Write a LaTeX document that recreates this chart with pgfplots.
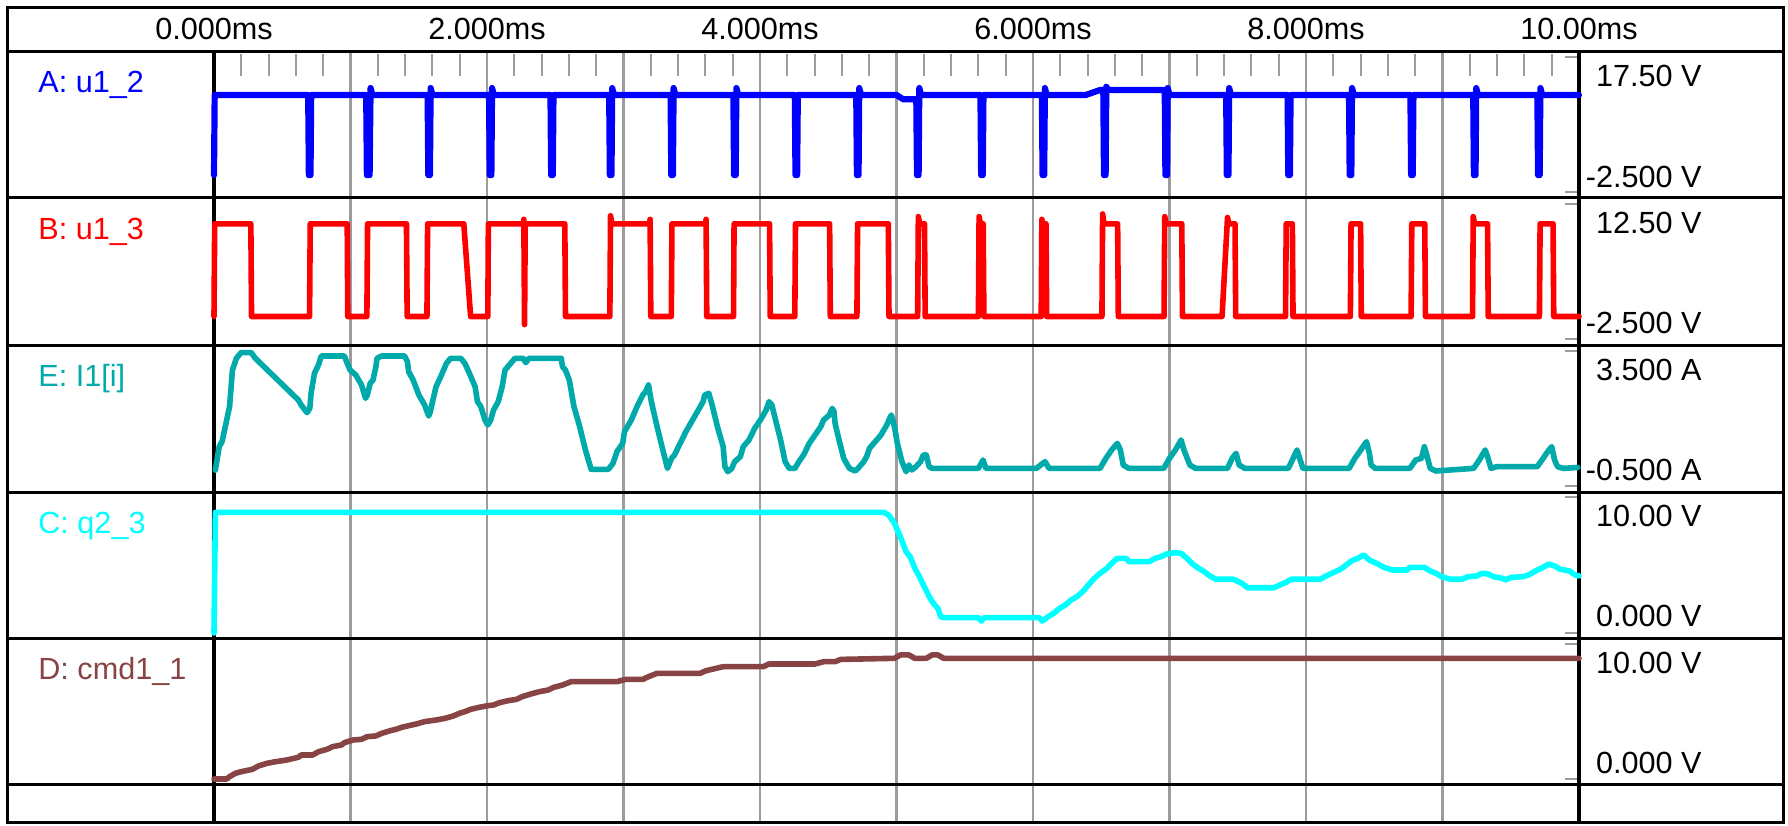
\documentclass[border=0pt]{standalone}
\usepackage{pgfplots}
\pgfplotsset{compat=1.18}
\usepackage{fontspec}
\setmainfont{Liberation Sans}
\definecolor{cA}{HTML}{0000FF}
\definecolor{cB}{HTML}{FF0000}
\definecolor{cE}{HTML}{00AAAA}
\definecolor{cC}{HTML}{00FFFF}
\definecolor{cD}{HTML}{884444}
\definecolor{gridgray}{HTML}{9C9C9C}
\pgfplotsset{panel/.style={scale only axis, width=682.5pt, height=67.5pt,
  xmin=0, xmax=10, hide axis, clip=false, anchor=north west},
  trace/.style={line width=2.8pt, line join=round, line cap=round}}
\begin{document}
\begin{tikzpicture}
\begin{scope}[x=0.5pt,y=-0.5pt]
\useasboundingbox (0,0) rectangle (1788,825);
% grid
\foreach \k in {1,...,9} \draw[gridgray, line width=1.3pt] ({214+136.5*\k},51) -- ({214+136.5*\k},822);
\foreach \m in {0,...,9} \foreach \j in {1,...,4} \draw[gridgray, line width=1pt] ({214+136.5*(\m+0.2*\j)},54) -- ({214+136.5*(\m+0.2*\j)},76);
\foreach \yy in {57,192,204,339,351,486,497,633,644,779} \draw[gridgray, line width=1.3pt] (1565,\yy) -- (1577,\yy);
% frame
\draw[black, line width=1.5pt] (7,7) rectangle (1783,822);
\foreach \yy in {51,197.5,345,492.5,638,784} \draw[black, line width=1.5pt] (7,\yy) -- (1783,\yy);
\draw[black, line width=1.6pt] (214,51) -- (214,822);
\draw[black, line width=1.6pt] (1579,51) -- (1579,822);
% texts
\begin{scope}[every node/.style={font=\fontsize{15.3}{18}\selectfont, inner sep=0pt}]
\node[anchor=base] at (214,39) {0.000ms};
\node[anchor=base] at (487,39) {2.000ms};
\node[anchor=base] at (760,39) {4.000ms};
\node[anchor=base] at (1033,39) {6.000ms};
\node[anchor=base] at (1306,39) {8.000ms};
\node[anchor=base] at (1579,39) {10.00ms};
\node[anchor=base west, text=cA] at (38,92) {A: u1\_2};
\node[anchor=base west, text=cB] at (38,239) {B: u1\_3};
\node[anchor=base west, text=cE] at (38,386) {E: I1[i]};
\node[anchor=base west, text=cC] at (38,533) {C: q2\_3};
\node[anchor=base west, text=cD] at (38,679) {D: cmd1\_1};
\node[anchor=base east] at (1702,86) {17.50 V};
\node[anchor=base east] at (1702,187) {-2.500 V};
\node[anchor=base east] at (1702,233) {12.50 V};
\node[anchor=base east] at (1702,333) {-2.500 V};
\node[anchor=base east] at (1702,380) {3.500 A};
\node[anchor=base east] at (1702,480) {-0.500 A};
\node[anchor=base east] at (1702,526) {10.00 V};
\node[anchor=base east] at (1702,626) {0.000 V};
\node[anchor=base east] at (1702,673) {10.00 V};
\node[anchor=base east] at (1702,773) {0.000 V};
\end{scope}
\end{scope}
% A: u1_2
\begin{axis}[panel, at={(107pt,-28.5pt)}, ymin=-2.5, ymax=17.5]
\addplot[trace, line width=3.1pt, cA] coordinates {
(0,0)(0.005,11.87)
(0.69,11.87)(0.695,0)(0.707,0)(0.712,11.87)
(1.115,11.87)(1.12,0)(1.14,0)(1.147,12.9)(1.16,11.87)
(1.565,11.87)(1.57,0)(1.582,0)(1.587,12.9)(1.60,11.87)
(2.015,11.87)(2.02,0)(2.032,0)(2.037,12.9)(2.05,11.87)
(2.465,11.87)(2.47,0)(2.482,0)(2.487,11.87)
(2.895,11.87)(2.90,0)(2.912,0)(2.917,12.9)(2.93,11.87)
(3.345,11.87)(3.35,0)(3.362,0)(3.367,12.9)(3.38,11.87)
(3.805,11.87)(3.81,0)(3.822,0)(3.827,12.9)(3.84,11.87)
(4.255,11.87)(4.26,0)(4.272,0)(4.277,11.87)
(4.705,11.87)(4.71,0)(4.722,0)(4.727,12.9)(4.74,11.87)
(5.0,11.87)(5.05,11.23)
(5.145,11.23)(5.15,0)(5.162,0)(5.167,12.9)(5.18,11.87)
(5.615,11.87)(5.62,0)(5.632,0)(5.637,11.87)
(6.065,11.87)(6.07,0)(6.082,0)(6.087,12.9)(6.10,11.87)
(6.386,11.87)(6.49,12.6)
(6.515,12.6)(6.52,0)(6.532,0)(6.537,13.1)(6.55,12.6)
(6.965,12.6)(6.97,0)(6.982,0)(6.987,12.9)(7.00,11.87)
(7.415,11.87)(7.42,0)(7.432,0)(7.437,12.9)(7.45,11.87)
(7.865,11.87)(7.87,0)(7.882,0)(7.887,11.87)
(8.315,11.87)(8.32,0)(8.332,0)(8.337,12.9)(8.35,11.87)
(8.765,11.87)(8.77,0)(8.782,0)(8.787,11.87)
(9.225,11.87)(9.23,0)(9.242,0)(9.247,12.9)(9.26,11.87)
(9.695,11.87)(9.70,0)(9.712,0)(9.717,12.9)(9.73,11.87)
(10,11.87)};
\end{axis}
% B: u1_3
\begin{axis}[panel, at={(107pt,-102pt)}, ymin=-2.5, ymax=12.5]
\addplot[trace, cB] coordinates {
(0,0)(0.005,10.3)(0.27,10.3)(0.275,0)(0.70,0)(0.705,10.3)(0.976,10.3)(0.98,0)
(1.12,0)(1.125,10.3)(1.41,10.3)(1.415,0)(1.56,0)(1.565,10.3)(1.83,10.3)(1.88,0)
(2.006,0)(2.01,10.3)(2.265,10.3)(2.27,10.8)(2.275,-0.9)(2.28,10.3)(2.57,10.3)(2.575,0)
(2.90,0)(2.905,11.2)(2.915,10.3)(3.19,10.3)(3.195,10.8)(3.20,0)
(3.35,0)(3.355,10.3)(3.60,10.3)(3.605,10.8)(3.61,0)
(3.806,0)(3.81,10.3)(4.07,10.3)(4.075,0)(4.255,0)(4.26,10.3)(4.51,10.3)(4.515,0)
(4.71,0)(4.715,10.3)(4.94,10.3)(4.945,0)
(5.155,0)(5.16,11.1)(5.17,10.3)(5.205,10.3)(5.21,0)
(5.60,0)(5.605,11.1)(5.615,10.3)(5.635,10.3)(5.64,0)
(6.06,0)(6.065,10.8)(6.07,10.3)(6.095,10.3)(6.10,0)
(6.505,0)(6.51,11.4)(6.52,10.3)(6.62,10.3)(6.625,0)
(6.96,0)(6.965,11.1)(6.975,10.3)(7.09,10.3)(7.095,0)
(7.385,0)(7.425,11.0)(7.435,10.3)(7.48,10.3)(7.485,0)
(7.85,0)(7.855,10.3)(7.90,10.3)(7.905,0)
(8.325,0)(8.33,10.3)(8.40,10.3)(8.405,0)
(8.77,0)(8.775,10.3)(8.87,10.3)(8.875,0)
(9.22,0)(9.225,11.1)(9.235,10.3)(9.33,10.3)(9.335,0)
(9.71,0)(9.715,10.3)(9.81,10.3)(9.815,0)(10,0)};
\end{axis}
% E: I1[i]
\begin{axis}[panel, at={(107pt,-175.5pt)}, ymin=-0.5, ymax=3.5]
\addplot[trace, cE] coordinates {
(0.01,-0.03)(0.038,0.665)(0.059,0.814)(0.080,1.209)(0.114,1.851)(0.135,2.937)(0.164,3.283)(0.198,3.451)(0.273,3.451)(0.303,3.283)
(0.618,2.048)(0.639,1.900)(0.681,1.673)(0.702,1.801)(0.711,2.246)(0.736,2.838)(0.765,3.085)(0.786,3.352)(0.955,3.352)(0.976,3.135)(0.997,2.937)
(1.039,2.789)(1.081,2.493)(1.110,2.098)(1.123,2.196)(1.144,2.542)(1.165,2.641)(1.186,3.036)(1.194,3.283)(1.228,3.352)(1.396,3.352)(1.417,3.184)(1.426,2.888)
(1.459,2.641)(1.501,2.196)(1.543,1.900)(1.573,1.574)(1.585,1.703)(1.598,1.949)(1.627,2.443)(1.661,2.740)(1.703,3.135)(1.733,3.283)(1.808,3.283)(1.838,3.135)
(1.871,2.838)(1.913,2.443)(1.930,1.999)(1.955,1.851)(1.985,1.456)(2.006,1.307)(2.027,1.456)(2.048,1.752)(2.082,1.999)(2.111,2.443)(2.132,2.937)(2.174,3.135)
(2.204,3.283)(2.267,3.283)(2.283,3.154)(2.309,3.283)(2.544,3.283)(2.553,3.036)(2.574,2.937)(2.603,2.641)(2.637,1.851)(2.679,1.258)(2.721,0.567)(2.763,-0.006)
(2.889,-0.006)(2.923,0.172)(2.952,0.517)(2.994,0.764)(3.007,1.110)(3.057,1.456)(3.099,1.851)(3.141,2.196)(3.162,2.295)(3.183,2.493)(3.204,1.999)(3.246,1.258)
(3.288,0.567)(3.322,0.023)(3.352,0.320)(3.373,0.419)(3.415,0.764)(3.457,1.110)(3.499,1.406)(3.541,1.703)(3.583,1.999)(3.595,2.196)(3.625,2.246)(3.646,1.949)
(3.688,1.258)(3.730,0.665)(3.743,0.073)(3.764,-0.075)(3.793,0.023)(3.814,0.221)(3.856,0.369)(3.877,0.665)(3.919,0.863)(3.961,1.209)(4.003,1.456)(4.045,1.752)
(4.066,1.999)(4.087,1.900)(4.108,1.554)(4.151,0.863)(4.184,0.221)(4.214,0.023)(4.256,0.023)(4.285,0.221)(4.319,0.419)(4.361,0.764)(4.403,1.011)(4.445,1.258)
(4.466,1.456)(4.508,1.604)(4.529,1.801)(4.542,1.703)(4.550,1.357)(4.579,0.863)(4.613,0.320)(4.655,0.023)(4.697,-0.055)(4.718,0.023)(4.760,0.221)(4.781,0.369)
(4.802,0.616)(4.844,0.814)(4.886,1.011)(4.907,1.159)(4.929,1.307)(4.950,1.505)(4.962,1.604)(4.985,1.258)(5.006,0.764)(5.040,0.221)(5.070,-0.075)(5.091,0.122)
(5.112,-0.026)(5.142,0.073)(5.176,0.221)(5.197,0.419)(5.218,0.419)(5.239,0.073)(5.261,0.023)(5.600,0.023)(5.634,0.271)(5.655,0.023)(6.025,0.023)(6.088,0.221)
(6.118,0.023)(6.491,0.023)(6.534,0.320)(6.576,0.567)(6.618,0.764)(6.640,0.567)(6.661,0.122)(6.703,0.023)(6.958,0.023)(7.000,0.320)(7.043,0.567)(7.085,0.863)
(7.106,0.567)(7.149,0.122)(7.191,0.023)(7.425,0.023)(7.459,0.320)(7.488,0.468)(7.510,0.122)(7.552,0.023)(7.870,0.023)(7.900,0.271)(7.934,0.567)(7.977,0.023)
(8.316,0.023)(8.358,0.320)(8.401,0.567)(8.443,0.814)(8.464,0.468)(8.477,0.122)(8.507,0.023)(8.761,0.023)(8.804,0.271)(8.846,0.320)(8.867,0.665)(8.888,0.369)
(8.910,0.023)(8.952,-0.055)(9.228,0.023)(9.270,0.271)(9.313,0.567)(9.334,0.320)(9.355,0.023)(9.397,0.073)(9.694,0.073)(9.737,0.320)(9.779,0.567)(9.800,0.665)
(9.821,0.271)(9.843,0.073)(9.885,0.023)(9.991,0.05)};
\end{axis}
% C: q2_3
\begin{axis}[panel, at={(107pt,-248.5pt)}, height=68pt, ymin=0, ymax=10]
\addplot[trace, cC] coordinates {
(0,0)(0.01,8.87)(4.907,8.87)(4.943,8.68)(4.985,8.06)(5.028,7.08)(5.070,5.98)(5.100,5.61)(5.134,4.76)(5.168,4.14)(5.197,3.53)(5.240,2.67)
(5.270,2.18)(5.303,1.81)(5.324,1.20)(5.346,1.13)(5.600,1.13)(5.621,0.88)(5.643,1.13)(6.046,1.13)(6.067,0.88)(6.110,1.20)(6.152,1.45)(6.194,1.81)
(6.237,2.06)(6.279,2.43)(6.322,2.67)(6.364,3.04)(6.406,3.53)(6.449,4.02)(6.491,4.39)(6.542,4.76)(6.576,5.12)(6.618,5.49)(6.682,5.49)(6.703,5.25)
(6.852,5.25)(6.894,5.49)(6.937,5.61)(6.979,5.81)(7.043,5.91)(7.085,5.86)(7.128,5.49)(7.170,5.07)(7.213,4.76)(7.255,4.51)(7.297,4.19)(7.340,3.95)
(7.467,3.95)(7.531,3.65)(7.573,3.33)(7.764,3.33)(7.807,3.53)(7.849,3.70)(7.891,3.95)(8.104,3.95)(8.146,4.19)(8.188,4.39)(8.252,4.68)(8.294,5.00)
(8.337,5.32)(8.379,5.49)(8.422,5.74)(8.464,5.37)(8.528,5.07)(8.570,4.83)(8.634,4.63)(8.740,4.63)(8.761,4.83)(8.867,4.83)(8.910,4.56)(8.952,4.39)
(8.995,4.14)(9.058,3.95)(9.143,3.95)(9.185,4.14)(9.249,4.19)(9.291,4.39)(9.334,4.34)(9.376,4.14)(9.440,4.02)(9.461,3.90)(9.503,4.09)(9.588,4.14)
(9.631,4.27)(9.694,4.63)(9.737,4.83)(9.779,5.07)(9.821,4.93)(9.864,4.68)(9.927,4.58)(9.970,4.27)(10.0,4.2)};
\end{axis}
% D: cmd1_1
\begin{axis}[panel, at={(107pt,-322pt)}, ymin=0, ymax=10]
\addplot[trace, cD] coordinates {
(0,0)(0.093,0)(0.114,0.17)(0.156,0.42)(0.198,0.54)(0.282,0.72)(0.324,0.96)(0.387,1.16)(0.450,1.28)(0.534,1.41)(0.618,1.61)(0.639,1.78)
(0.723,1.78)(0.765,2.02)(0.828,2.20)(0.870,2.40)(0.934,2.52)(0.955,2.69)(1.018,2.89)(1.081,2.94)(1.123,3.14)(1.186,3.19)(1.228,3.38)(1.291,3.58)
(1.333,3.68)(1.375,3.83)(1.426,3.95)(1.480,4.07)(1.543,4.25)(1.627,4.37)(1.690,4.49)(1.754,4.67)(1.796,4.86)(1.838,4.99)(1.880,5.16)(1.943,5.31)
(2.006,5.43)(2.048,5.48)(2.090,5.65)(2.153,5.80)(2.216,5.90)(2.258,6.10)(2.321,6.30)(2.384,6.47)(2.447,6.59)(2.489,6.79)(2.553,6.96)(2.616,7.21)
(2.952,7.21)(3.015,7.38)(3.141,7.38)(3.183,7.58)(3.246,7.83)(3.562,7.83)(3.604,8.02)(3.730,8.32)(4.024,8.32)(4.066,8.52)(4.403,8.52)(4.466,8.69)
(4.550,8.69)(4.592,8.86)(4.985,8.94)(5.028,9.19)(5.091,9.19)(5.134,8.94)(5.218,8.94)(5.261,9.19)(5.303,9.19)(5.346,8.94)(10.0,8.94)};
\end{axis}
\end{tikzpicture}
\end{document}
